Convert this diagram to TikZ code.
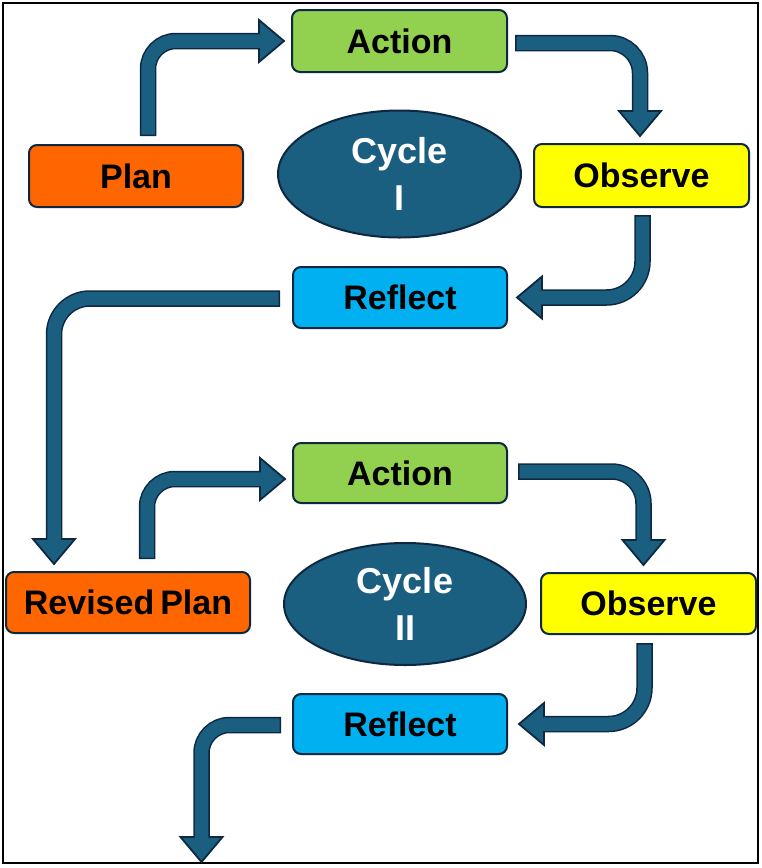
\documentclass[tikz,border=0pt]{standalone}
\usepackage{fontspec}
\setmainfont{Liberation Sans}
\usetikzlibrary{shapes.geometric,decorations.markings}
\definecolor{planorange}{HTML}{FF6600}
\definecolor{actgreen}{HTML}{92D050}
\definecolor{obsyellow}{HTML}{FFFF00}
\definecolor{refblue}{HTML}{00B0F0}
\definecolor{arrowfill}{HTML}{1A5E80}
\definecolor{edgecol}{HTML}{0E2841}
\begin{document}
\begin{tikzpicture}[x=1pt,y=-1pt,
  box/.style={rectangle, rounded corners=8pt, draw=edgecol, line width=2pt, inner sep=0pt,
    minimum width=215pt, minimum height=62pt, font=\fontsize{34}{40}\selectfont\bfseries, text=black},
  cycle/.style={ellipse, draw=edgecol, line width=2pt, fill=arrowfill, inner sep=0pt, align=center,
    font=\fontsize{36}{47}\selectfont\bfseries, text=white},
  flowarrow/.style={rounded corners=#1,
    preaction={draw=edgecol, line width=16.5pt, shorten >=22pt},
    postaction={decorate, decoration={markings, mark=at position 1 with {
      \filldraw[sharp corners, fill=arrowfill, draw=edgecol, line width=1.8pt, line join=miter]
        (0pt,0pt) -- (-25pt,21pt) -- (-25pt,-21pt) -- cycle;}}},
    postaction={draw=arrowfill, line width=13.5pt, shorten >=22pt, shorten <=1.5pt}},
  flowarrow/.default=30pt]
\useasboundingbox (0,0) rectangle (762,868);
\draw[black, line width=2.5pt] (3,3) rectangle (758,863);

% nodes
\node[box, fill=planorange, minimum width=214pt] (plan) at (136,176) {Plan};
\node[box, fill=actgreen] (act1) at (399.5,41) {Action};
\node[box, fill=obsyellow, minimum height=63pt] (obs1) at (641.5,175.5) {Observe};
\node[box, fill=refblue, minimum width=214pt, minimum height=61pt] (ref1) at (400,297.5) {Reflect};
\node[cycle, minimum width=243pt, minimum height=127pt] (cyc1) at (399.5,174) {Cycle\\I};

\node[box, fill=actgreen, minimum width=214pt, minimum height=60pt] (act2) at (400,473) {Action};
\node[box, fill=planorange, minimum width=244pt, minimum height=61pt] (rplan) at (128,602.5) {Revised\hspace{6pt}Plan};
\node[box, fill=obsyellow, minimum height=61pt] (obs2) at (648.5,603.5) {Observe};
\node[box, fill=refblue, minimum width=214pt, minimum height=60pt] (ref2) at (400,724) {Reflect};
\node[cycle, minimum width=242pt, minimum height=122pt] (cyc2) at (405,604) {Cycle\\II};

\coordinate (out) at (201.5,862);

% connectors
\path[flowarrow=28pt] ([xshift=12pt,yshift=8pt]plan.north) |- ([xshift=-7pt]act1.west);
\path[flowarrow=30pt] ([xshift=7pt,yshift=-2pt]act1.east) -| ([xshift=-1.5pt,yshift=7pt]obs1.north);
\path[flowarrow=36pt] ([xshift=1pt,yshift=-7pt]obs1.south) |- ([xshift=9pt]ref1.east);
\path[flowarrow=36pt] ([xshift=-12pt,yshift=-1pt]ref1.west) -| ([xshift=-74pt,yshift=7pt]rplan.north);
\path[flowarrow=28pt] ([xshift=19pt,yshift=12pt]rplan.north) |- ([xshift=-7pt,yshift=-6pt]act2.west);
\path[flowarrow=32pt] ([xshift=10pt,yshift=1.5pt]act2.east) -| ([xshift=-5pt,yshift=7pt]obs2.north);
\path[flowarrow=36pt] ([xshift=-4pt,yshift=-8pt]obs2.south) |- ([xshift=11pt]ref2.east);
\path[flowarrow=28pt] ([xshift=-11pt,yshift=-1pt]ref2.west) -| (out);
\end{tikzpicture}
\end{document}
